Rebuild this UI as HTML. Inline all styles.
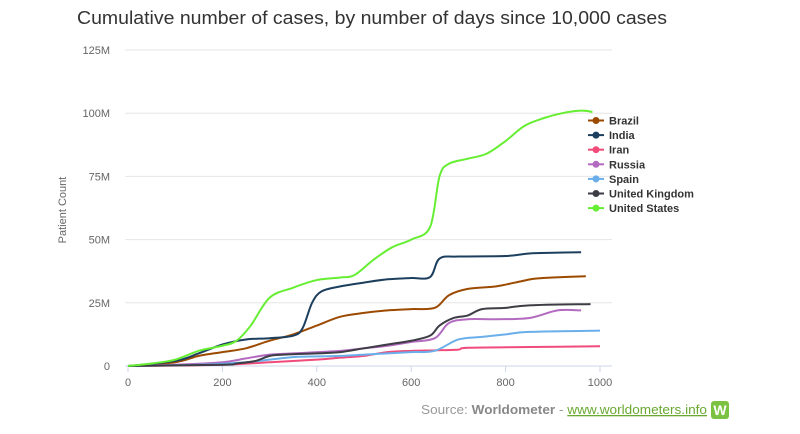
<!DOCTYPE html>
<html><head><meta charset="utf-8"><style>
html,body{margin:0;padding:0;background:#fff;width:800px;height:434px;overflow:hidden}
svg{display:block;font-family:"Liberation Sans",sans-serif}
</style></head><body>
<svg id="chart" width="800" height="434">
<text x="77" y="24" font-size="18" fill="#333" textLength="590" lengthAdjust="spacingAndGlyphs">Cumulative number of cases, by number of days since 10,000 cases</text>
<g id="grid"></g><g id="series"></g><g id="legend"></g>
<text transform="translate(66,210) rotate(-90)" text-anchor="middle" font-size="11" fill="#666">Patient Count</text>
<text x="421" y="414" font-size="13" fill="#999" textLength="286" lengthAdjust="spacingAndGlyphs">Source: <tspan font-weight="bold" fill="#888">Worldometer</tspan> - <tspan fill="#6aa832" text-decoration="underline">www.worldometers.info</tspan></text>
<g><rect x="711" y="401" width="18" height="18" rx="3" fill="#7cc242"/><text x="720" y="415" font-size="14" font-weight="bold" fill="#fff" text-anchor="middle">W</text></g>
</svg>
<script>
const yTicks=[0,25,50,75,100,125];
const yTickLabels=["0","25M","50M","75M","100M","125M"];
const xTicks=[0,200,400,600,800,1000];
const seriesNames=["Brazil","India","Iran","Russia","Spain","United Kingdom","United States"];
const seriesColors=["#9c4a00","#1c3f5e","#f04b7a","#b36bc0","#6aafea","#3d3d45","#66ee33"];
const brazilDays=[0,100,150,200,250,300,350,400,450,500,550,600,650,680,720,780,820,860,900,970];
const brazilVals=[0,1.5,4,5.5,7,10,12.5,16,19.5,21,22,22.5,23,28,30.5,31.5,33,34.5,35,35.5];
const indiaDays=[0,100,150,200,250,300,350,370,390,410,450,500,550,600,640,660,700,800,850,900,960];
const indiaVals=[0,2,5,8.5,10.5,11,12,15,25,29.5,31.5,33,34.3,34.8,35.2,42.5,43.3,43.5,44.5,44.8,45];
const iranDays=[0,200,300,400,450,500,550,600,650,700,720,850,1000];
const iranVals=[0,0.5,1.5,2.5,3.3,4,5.5,6,6.2,6.5,7.2,7.5,7.8];
const russiaDays=[0,100,200,250,300,350,450,500,550,600,650,680,720,780,850,910,960];
const russiaVals=[0,0.5,1.5,3,4.5,5,6,7,8,9.5,11,17,18.5,18.5,19,22,22];
const spainDays=[0,150,250,300,350,400,450,500,550,600,650,700,750,800,850,1000];
const spainVals=[0,0.5,1.5,2.5,3.5,3.8,4,4.5,5,5.5,6,10.5,11.5,12.5,13.5,14];
const ukDays=[0,200,230,270,300,330,400,450,500,550,600,640,660,690,720,750,800,850,980];
const ukVals=[0,0.5,1,2,4,4.5,5,5.5,7,8.5,10,12,16,19,20,22.5,23,24,24.5];
const usDays=[0,50,100,150,200,230,260,300,350,400,450,480,520,560,600,640,660,680,720,760,800,840,880,920,960,984];
const usVals=[0,1,2.5,6,8,10,16,27,31,34,35,36,42,47,50,55,75,80,82,84,89,95,98,100,101,100.5];
const seriesDays=[brazilDays,indiaDays,iranDays,russiaDays,spainDays,ukDays,usDays];
const seriesVals=[brazilVals,indiaVals,iranVals,russiaVals,spainVals,ukVals,usVals];

const NS="http://www.w3.org/2000/svg";
const xS=d=>128+d*0.472;
const yS=v=>366-v*2.528;
function mk(tag,attrs,parent){const e=document.createElementNS(NS,tag);for(const k in attrs)e.setAttribute(k,attrs[k]);parent.appendChild(e);return e;}
const grid=document.getElementById('grid');
yTicks.forEach((t,i)=>{
  const l=mk('line',{x1:125,x2:612,y1:yS(t),y2:yS(t),stroke:i===0?'#ccd6eb':'#e6e6e6','stroke-width':1},grid);
  
  
  const tx=mk('text',{x:110,y:yS(t)+4,'text-anchor':'end','font-size':11,fill:'#666'},grid);
  tx.textContent=yTickLabels[i];
  
  
});
xTicks.forEach(t=>{
  const l=mk('line',{x1:xS(t),x2:xS(t),y1:366,y2:372,stroke:'#ccd6eb'},grid);
  
  
  const tx=mk('text',{x:xS(t),y:386,'text-anchor':'middle','font-size':11,fill:'#666'},grid);
  tx.textContent=t;
  
  
});
function smooth(pts){
  let d='M'+pts[0][0]+','+pts[0][1];
  for(let i=0;i<pts.length-1;i++){
    const p0=pts[i-1]||pts[i],p1=pts[i],p2=pts[i+1],p3=pts[i+2]||p2;
    const c1=[p1[0]+(p2[0]-p0[0])/6,p1[1]+(p2[1]-p0[1])/6];
    const c2=[p2[0]-(p3[0]-p1[0])/6,p2[1]-(p3[1]-p1[1])/6];
    d+=' C'+c1+' '+c2+' '+p2;
  }
  return d;
}
const sg=document.getElementById('series');
const lg=document.getElementById('legend');
seriesNames.forEach((n,i)=>{
  const pts=seriesDays[i].map((d,j)=>[xS(d),yS(seriesVals[i][j])]);
  const p=mk('path',{d:smooth(pts),fill:'none',stroke:seriesColors[i],'stroke-width':2},sg);
  
  
  const y=120.5+i*14.6;
  const g=mk('g',{},lg);
  
  
  mk('line',{x1:588,x2:604,y1:y,y2:y,stroke:seriesColors[i],'stroke-width':2},g);
  mk('circle',{cx:596,cy:y,r:3.5,fill:seriesColors[i]},g);
  const t=mk('text',{x:609,y:y+4,'font-size':11,'font-weight':'bold',fill:'#333'},g);
  t.textContent=n;
});
</script>
</body></html>
